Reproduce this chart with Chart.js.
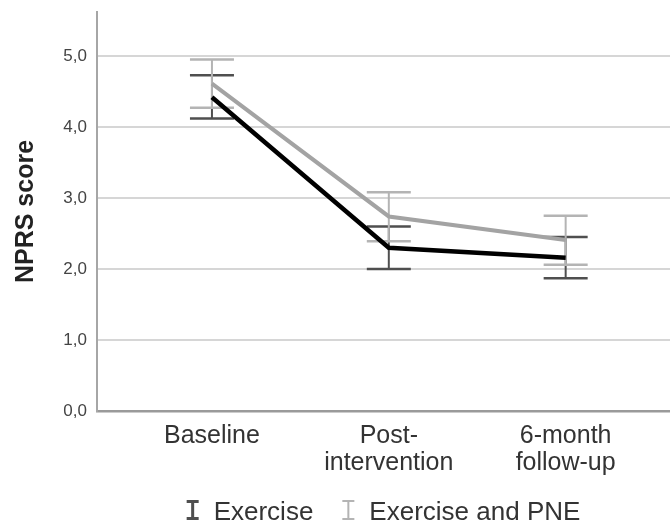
<!DOCTYPE html>
<html>
<head>
<meta charset="utf-8">
<script src="https://cdn.jsdelivr.net/npm/chart.js@4.4.0/dist/chart.umd.min.js"></script>
<style>
  html, body { margin: 0; padding: 0; background: #ffffff; }
  #wrap { width: 670px; height: 525px; }
</style>
</head>
<body>
<div id="wrap"><canvas id="chart" width="670" height="525"></canvas></div>
<script>
// Time points (multi-line category labels)
const categories = [['Baseline'], ['Post-', 'intervention'], ['6-month', 'follow-up']];
const yTicks = [0, 1, 2, 3, 4, 5];

// Exercise group: mean NPRS with 95% CI
const exerciseMean = [4.42, 2.30, 2.16];
const exerciseLow  = [4.12, 2.00, 1.87];
const exerciseHigh = [4.73, 2.60, 2.45];

// Exercise and PNE group: mean NPRS with 95% CI
const pneMean = [4.61, 2.74, 2.41];
const pneLow  = [4.27, 2.39, 2.06];
const pneHigh = [4.95, 3.08, 2.75];

const seriesNames = ['Exercise', 'Exercise and PNE'];

const FONT = "'Liberation Sans', Arial, sans-serif";

const toPoints = arr => arr.map((v, i) => ({ x: i, y: v }));

const groups = [
  { label: seriesNames[0], mean: exerciseMean, low: exerciseLow, high: exerciseHigh,
    line: '#000000', bar: '#4f4f4f', stem: 2, cap: 2.5, legendStem: 3 },
  { label: seriesNames[1], mean: pneMean, low: pneLow, high: pneHigh,
    line: '#a3a3a3', bar: '#b4b4b4', stem: 2, cap: 2.5, legendStem: 2 }
];

// Confidence-interval whiskers drawn under the mean lines
const errorBars = {
  id: 'errorBars',
  beforeDatasetsDraw(chart) {
    const { ctx, scales: { x, y } } = chart;
    const half = 22;
    ctx.save();
    groups.forEach(g => {
      ctx.strokeStyle = g.bar;
      g.mean.forEach((_, i) => {
        const px = x.getPixelForValue(i);
        const top = y.getPixelForValue(g.high[i]);
        const bot = y.getPixelForValue(g.low[i]);
        ctx.lineWidth = g.stem;
        ctx.beginPath();
        ctx.moveTo(px, top);
        ctx.lineTo(px, bot);
        ctx.stroke();
        ctx.lineWidth = g.cap;
        ctx.beginPath();
        ctx.moveTo(px - half, top); ctx.lineTo(px + half, top);
        ctx.moveTo(px - half, bot); ctx.lineTo(px + half, bot);
        ctx.stroke();
      });
    });
    ctx.restore();
  }
};

// Legend with I-beam whisker symbols, centred under the plot area
const whiskerLegend = {
  id: 'whiskerLegend',
  afterDraw(chart) {
    const { ctx, chartArea } = chart;
    const fontSize = 26;
    ctx.save();
    ctx.font = fontSize + 'px ' + FONT;
    const symW = 12, gap = 15, itemGap = 29;
    const widths = groups.map(g => symW + gap + ctx.measureText(g.label).width);
    const total = widths.reduce((a, b) => a + b, 0) + itemGap * (groups.length - 1);
    let cx = (chartArea.left + chartArea.right) / 2 - total / 2;
    const baseY = 520;
    const symTop = 500, symBot = 520;
    groups.forEach((g, k) => {
      ctx.strokeStyle = g.bar;
      ctx.lineWidth = g.legendStem;
      const mid = cx + symW / 2;
      ctx.beginPath();
      ctx.moveTo(mid, symTop); ctx.lineTo(mid, symBot);
      ctx.moveTo(cx, symTop + g.legendStem / 2); ctx.lineTo(cx + symW, symTop + g.legendStem / 2);
      ctx.moveTo(cx, symBot - g.legendStem / 2); ctx.lineTo(cx + symW, symBot - g.legendStem / 2);
      ctx.stroke();
      ctx.fillStyle = '#333333';
      ctx.textBaseline = 'alphabetic';
      ctx.textAlign = 'left';
      ctx.fillText(g.label, cx + symW + gap, baseY);
      cx += widths[k] + itemGap;
    });
    ctx.restore();
  }
};

new Chart(document.getElementById('chart'), {
  type: 'line',
  data: {
    datasets: [
      {
        label: seriesNames[1],
        data: toPoints(pneMean),
        borderColor: groups[1].line,
        borderWidth: 4,
        pointRadius: 0,
        tension: 0
      },
      {
        label: seriesNames[0],
        data: toPoints(exerciseMean),
        borderColor: groups[0].line,
        borderWidth: 4.5,
        pointRadius: 0,
        tension: 0
      }
    ]
  },
  options: {
    responsive: false,
    animation: false,
    devicePixelRatio: 1,
    layout: { padding: { top: 12, right: 0, bottom: 0, left: 0 } },
    plugins: {
      legend: { display: false },
      tooltip: { enabled: false }
    },
    scales: {
      x: {
        type: 'linear',
        min: -0.65,
        max: 2.59,
        afterBuildTicks: s => { s.ticks = categories.map((_, i) => ({ value: i })); },
        afterFit: s => { s.height = 114; s.paddingLeft = 0; s.paddingRight = 0; },
        grid: { display: true, drawOnChartArea: false, drawTicks: false, color: 'rgba(0,0,0,0)' },
        border: { display: true, color: '#9a9a9a', width: 2.5 },
        ticks: {
          padding: 12,
          maxRotation: 0,
          autoSkip: false,
          color: '#333333',
          font: { family: FONT, size: 25, lineHeight: 1.07 },
          callback: v => categories[v]
        }
      },
      y: {
        min: 0,
        max: 5.62,
        afterBuildTicks: s => { s.ticks = yTicks.map(v => ({ value: v })); },
        afterFit: s => { s.width = 97; s.paddingTop = 0; s.paddingBottom = 0; },
        grid: { color: '#d6d6d6', lineWidth: 2, drawTicks: false },
        border: { display: true, color: '#a6a6a6', width: 2 },
        ticks: {
          padding: 10,
          color: '#444444',
          font: { family: FONT, size: 17 },
          callback: v => v.toFixed(1).replace('.', ',')
        },
        title: {
          display: true,
          text: 'NPRS score',
          color: '#222222',
          padding: { top: 11, bottom: 0 },
          font: { family: FONT, size: 25, weight: 'bold' }
        }
      }
    }
  },
  plugins: [errorBars, whiskerLegend]
});
</script>
</body>
</html>
